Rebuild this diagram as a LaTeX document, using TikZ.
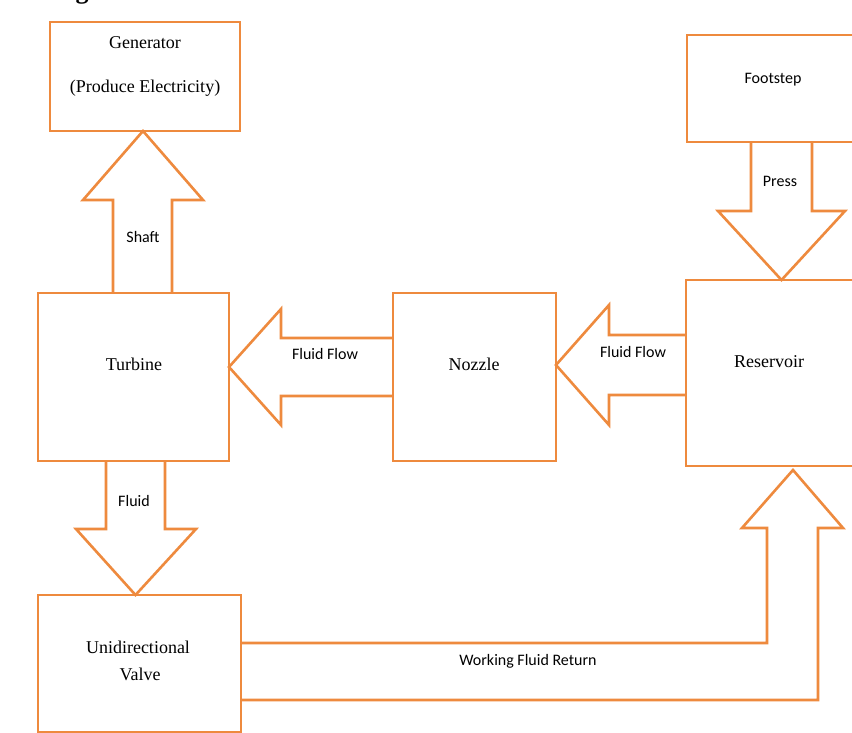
\documentclass[tikz,border=0pt]{standalone}
\usepackage{fontspec}
\setmainfont{Liberation Serif}
\newfontfamily\labfont{Carlito}
\definecolor{lineor}{HTML}{EE8A3E}
\tikzset{
  box/.style={draw=lineor, line width=2.6pt, fill=white, inner sep=0pt, outer sep=0pt},
  blockarrow/.style={draw=lineor, line width=2.6pt, line join=miter, fill=none},
  boxtext/.style={font=\fontsize{18}{20}\selectfont, text height=12pt, text depth=4pt, inner sep=0pt},
  labtext/.style={font=\labfont\fontsize{16}{18}\selectfont, text height=11pt, text depth=3.5pt, inner sep=0pt}
}
\begin{document}
\begin{tikzpicture}[x=1pt,y=-1pt]
\useasboundingbox (0,0) rectangle (852,733);
\fill[white] (0,0) rectangle (852,733);
\clip (0,0) rectangle (852,733);

% cut-off caption fragment at the top
\node[anchor=base, inner sep=0pt, font=\bfseries\fontsize{26}{28}\selectfont] (capfrag) at (82,-1) {g};

% boxes
\node[box, minimum width=190pt, minimum height=109pt] (gen)  at (145,76.5) {};
\node[box, minimum width=191pt, minimum height=168pt] (turb) at (133.5,377) {};
\node[box, minimum width=163pt, minimum height=168pt] (noz)  at (474.5,377) {};
\node[box, minimum width=172pt, minimum height=186pt] (res)  at (772,373) {};
\node[box, minimum width=171pt, minimum height=107pt] (foot) at (772.5,88.5) {};
\node[box, minimum width=203pt, minimum height=137pt] (valve) at (139.5,663.5) {};

% box texts
\node[boxtext] (tgen1) at (145,45) {Generator};
\node[boxtext] (tgen2) at (145,89) {(Produce Electricity)};
\node[boxtext] (tturb) at (134,366) {Turbine};
\node[boxtext] (tnoz)  at (474,366) {Nozzle};
\node[boxtext] (tres)  at (769,363) {Reservoir};
\node[labtext] (tfoot) at (773,80) {Footstep};
\node[boxtext] (tval1) at (138,649) {Unidirectional};
\node[boxtext] (tval2) at (140,676) {Valve};

% Shaft arrow: turbine -> generator
\draw[blockarrow] (113,0 |- turb.north) -- (113,200) -- (83,200) -- (143,0 |- gen.south)
  -- (203,200) -- (172,200) -- (172,0 |- turb.north);
\node[labtext] (lshaft) at (143,239) {Shaft};

% Fluid Flow: nozzle -> turbine
\draw[blockarrow] (noz.west |- 0,338) -- (281,338) -- (281,309) -- (turb.east |- 0,367)
  -- (281,425) -- (281,396) -- (noz.west |- 0,396);
\node[labtext] (lflow1) at (325,356) {Fluid Flow};

% Fluid Flow: reservoir -> nozzle
\draw[blockarrow] (res.west |- 0,335) -- (609,335) -- (609,305) -- (noz.east |- 0,365)
  -- (609,425) -- (609,395) -- (res.west |- 0,395);
\node[labtext] (lflow2) at (633,354) {Fluid Flow};

% Press: footstep -> reservoir
\draw[blockarrow] (751,0 |- foot.south) -- (751,211) -- (718,211) -- (781.5,0 |- res.north)
  -- (845,211) -- (812,211) -- (812,0 |- foot.south);
\node[labtext] (lpress) at (780,183) {Press};

% Fluid: turbine -> valve
\draw[blockarrow] (106,0 |- turb.south) -- (106,529) -- (76,529) -- (135.5,0 |- valve.north)
  -- (196,529) -- (165,529) -- (165,0 |- turb.south);
\node[labtext] (lfluid) at (134,503) {Fluid};

% Working fluid return: valve -> reservoir
\coordinate (rettip) at (793,470);
\draw[blockarrow] (valve.east |- 0,643) -- (767,643) -- (767,528) -- (742,528) -- (rettip)
  -- (843,528) -- (818,528) -- (818,700) -- (valve.east |- 0,700);
\node[labtext] (lret) at (528,662) {Working Fluid Return};
\end{tikzpicture}
\end{document}
